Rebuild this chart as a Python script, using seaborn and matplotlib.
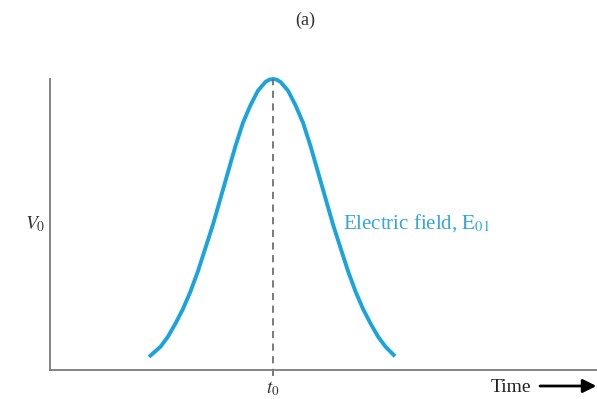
import pandas as pd
import matplotlib.pyplot as plt
import seaborn as sns

# pulse: time in units relative to t0, amplitude in units of V0
time = [-2.48, -2.25, -2.10, -1.95, -1.80, -1.65, -1.50, -1.35, -1.20, -1.05,
        -0.90, -0.75, -0.60, -0.45, -0.30, -0.15, -0.07, 0.00, 0.07, 0.15,
        0.30, 0.45, 0.60, 0.75, 0.90, 1.05, 1.20, 1.35, 1.50, 1.65,
        1.80, 1.95, 2.10, 2.25, 2.44]
field = [0.045, 0.080, 0.115, 0.160, 0.210, 0.270, 0.340, 0.420, 0.500, 0.590,
         0.680, 0.770, 0.850, 0.910, 0.960, 0.990, 0.998, 1.000, 0.998, 0.990,
         0.960, 0.910, 0.850, 0.770, 0.680, 0.590, 0.500, 0.420, 0.340, 0.270,
         0.210, 0.160, 0.115, 0.080, 0.047]
t0 = 0.0
v0 = 0.5

df = pd.DataFrame({"Time": time, "E01": field})

sns.set_style("white")
plt.rcParams['font.family'] = ['Liberation Serif', 'DejaVu Serif']
plt.rcParams['mathtext.fontset'] = 'stix'

fig = plt.figure(figsize=(5.97, 3.99), dpi=100)
ax = fig.add_axes([50/597, 29/399, 547/597, 291/399])

blue = '#1ba3de'
sns.lineplot(data=df, x="Time", y="E01", ax=ax, color=blue, lw=2.8,
             solid_capstyle='butt', solid_joinstyle='round', clip_on=False)
ax.plot([t0, t0], [-0.02, 1.0], color='#707070', lw=1.3, ls=(0, (4, 3)),
        clip_on=False)

ax.set_xlim(-4.46, 6.48)
ax.set_ylim(0, 1.0)
sns.despine(ax=ax)
for s in ['left', 'bottom']:
    ax.spines[s].set_color('#7a7a7a')
    ax.spines[s].set_linewidth(1.3)
ax.set_xticks([])
ax.set_yticks([])
ax.set_xlabel('')
ax.set_ylabel('')

ax.text(t0, -0.064, '$t_0$', ha='center', va='center', fontsize=13.5, color='#333333')
ax.text(-4.75, v0, '$V_0$', ha='center', va='center', fontsize=14, color='#333333')
ax.text(1.40, 0.505, r'Electric field, $\mathrm{E}_{01}$', ha='left', va='center',
        fontsize=15, color='#35a6dc')

fig.text(305/597, 1 - 20/399, '(a)', ha='center', va='center', fontsize=13, color='#333333')
fig.text(511/597, 1 - 387/399, 'Time', ha='center', va='center', fontsize=14, color='#222222')
ax.annotate('', xy=(0.999, 1 - 386/399), xytext=(540/597, 1 - 386/399),
            xycoords='figure fraction', textcoords='figure fraction',
            arrowprops=dict(arrowstyle='-|>', color='black', lw=2, mutation_scale=20,
                            shrinkA=0, shrinkB=0))

fig.savefig('out.png', dpi=100)
